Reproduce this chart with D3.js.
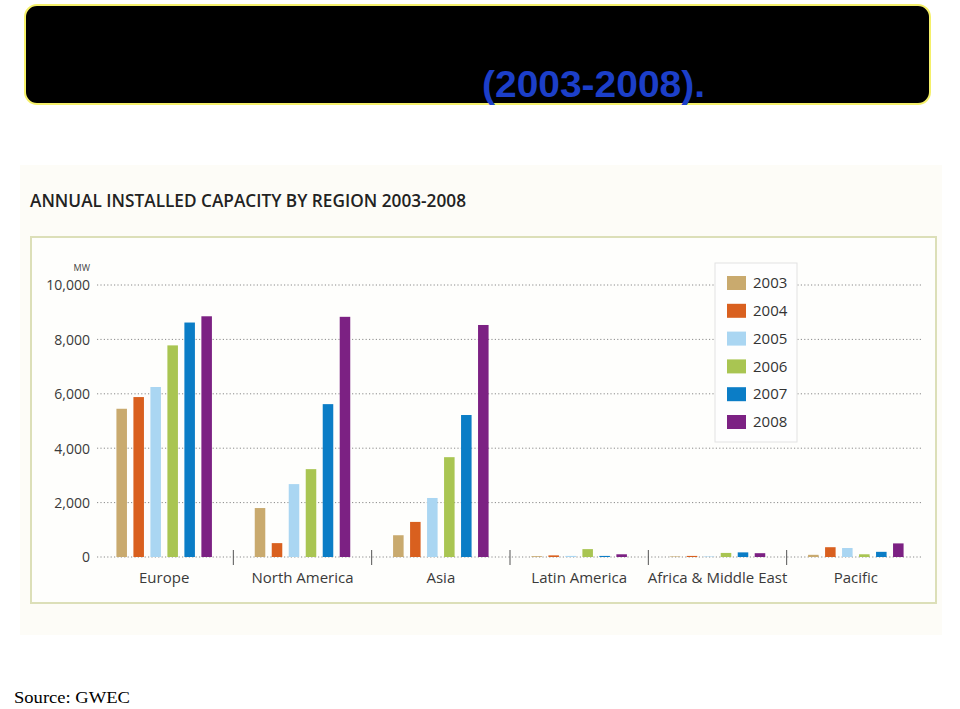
<!DOCTYPE html>
<html><head><meta charset="utf-8">
<script src="https://cdn.jsdelivr.net/npm/d3@7/dist/d3.min.js"></script>
<style>body{margin:0;background:#fff;}svg{display:block;}</style>
</head><body>
<svg id="c" width="960" height="709"></svg>
<script>
const regions = ["Europe","North America","Asia","Latin America","Africa & Middle East","Pacific"];
const years = ["2003","2004","2005","2006","2007","2008"];
const v2003 = [5450, 1800, 800, 30, 20, 80];
const v2004 = [5880, 510, 1290, 60, 40, 360];
const v2005 = [6250, 2680, 2170, 40, 20, 330];
const v2006 = [7780, 3230, 3670, 290, 150, 100];
const v2007 = [8620, 5620, 5220, 40, 170, 190];
const v2008 = [8850, 8830, 8530, 100, 140, 500];
const series = [v2003, v2004, v2005, v2006, v2007, v2008];
const colors = ["#c9aa6e","#d9601f","#aad6f2","#a9c552","#0b7dc6","#7c2183"];
const yTicks = [0, 2000, 4000, 6000, 8000, 10000];

const svg = d3.select("#c");
const font = "'Open Sans', 'Noto Sans', sans-serif";

// header box
svg.append("rect").attr("x",25).attr("y",5).attr("width",905).attr("height",99)
  .attr("rx",12).attr("fill","#000").attr("stroke","#f5f06a").attr("stroke-width",2);
svg.append("text").attr("x",482).attr("y",97).text("(2003-2008).")
  .attr("font-family","'Liberation Sans', Arial, sans-serif").attr("font-weight","bold")
  .attr("font-size",36).attr("fill","#1c3fc9").attr("textLength",223).attr("lengthAdjust","spacingAndGlyphs");

// chart background
svg.append("rect").attr("x",20).attr("y",165).attr("width",922).attr("height",470).attr("fill","#fdfcf7");
svg.append("text").attr("x",30).attr("y",207).text("ANNUAL INSTALLED CAPACITY BY REGION 2003-2008")
  .attr("font-family",font).attr("font-weight",600).attr("font-size",17.5).attr("fill","#222")
  .attr("textLength",436).attr("lengthAdjust","spacingAndGlyphs");
svg.append("rect").attr("x",31).attr("y",237).attr("width",905).attr("height",366)
  .attr("fill","#fefefc").attr("stroke","#dcdfb8").attr("stroke-width",2);

const y = d3.scaleLinear().domain([0,10000]).range([557,285]);
const x0 = d3.scaleBand().domain(regions).range([95,925]);
const gw = 95.5;
const x1 = d3.scaleBand().domain(years)
  .range([(x0.bandwidth()-gw)/2, (x0.bandwidth()+gw)/2]).paddingInner(0.38);

// gridlines
const grid = svg.append("g");
grid.selectAll("line").data(yTicks).join("line")
  .attr("x1",97).attr("x2",923).attr("y1",d=>y(d)).attr("y2",d=>y(d))
  .attr("stroke","#8a8a8a").attr("stroke-width",1).attr("stroke-dasharray","1.2,2.2");

// y axis labels
const yAxis = d3.axisLeft(y).tickValues(yTicks).tickSize(0).tickPadding(0).tickFormat(d3.format(","));
const ya = svg.append("g").attr("transform","translate(90,0)").call(yAxis);
ya.select(".domain").remove();
ya.selectAll("text").attr("font-family",font).attr("font-size",14).attr("fill","#3a3a3a").attr("dy","0.35em");
svg.append("text").attr("x",90).attr("y",271).attr("text-anchor","end").text("MW")
  .attr("font-family",font).attr("font-size",9).attr("fill","#444");

// separators
const seps = regions.slice(1).map(r => x0(r));
svg.append("g").selectAll("line").data(seps).join("line")
  .attr("x1",d=>d).attr("x2",d=>d).attr("y1",550).attr("y2",565)
  .attr("stroke","#555").attr("stroke-width",1);

// bars
const groups = svg.append("g").selectAll("g").data(regions).join("g")
  .attr("transform",r=>`translate(${x0(r)},0)`);
groups.selectAll("rect").data((r,ri)=>years.map((yr,yi)=>({yr, yi, v: series[yi][ri]}))).join("rect")
  .attr("x",d=>x1(d.yr)).attr("width",x1.bandwidth())
  .attr("y",d=>y(d.v)).attr("height",d=>y(0)-y(d.v)).attr("fill",d=>colors[d.yi]);

// x labels
const xAxis = d3.axisBottom(x0).tickSize(0).tickPadding(0);
const xa = svg.append("g").attr("transform","translate(0,572)").call(xAxis);
xa.select(".domain").remove();
xa.selectAll("text").attr("font-family",font).attr("font-size",15).attr("fill","#3a3a3a").attr("dy","0.71em");

// legend
const lg = svg.append("g");
lg.append("rect").attr("x",715).attr("y",263).attr("width",82).attr("height",179)
  .attr("fill","#fefefe").attr("stroke","#e2e2e2").attr("stroke-width",1);
const ly = d3.scalePoint().domain(years).range([283,422]);
lg.selectAll("rect.sw").data(years).join("rect").attr("class","sw")
  .attr("x",727).attr("y",d=>ly(d)-7).attr("width",19).attr("height",14)
  .attr("fill",(d,i)=>colors[i]);
lg.selectAll("text").data(years).join("text")
  .attr("x",753).attr("y",d=>ly(d)).attr("dy","0.35em").text(d=>d)
  .attr("font-family",font).attr("font-size",15).attr("fill","#333");

// source
svg.append("text").attr("x",14).attr("y",703).text("Source: GWEC")
  .attr("font-family","'Liberation Serif', 'DejaVu Serif', serif").attr("font-size",16).attr("fill","#000")
  .attr("textLength",116).attr("lengthAdjust","spacingAndGlyphs");
</script>
</body></html>
